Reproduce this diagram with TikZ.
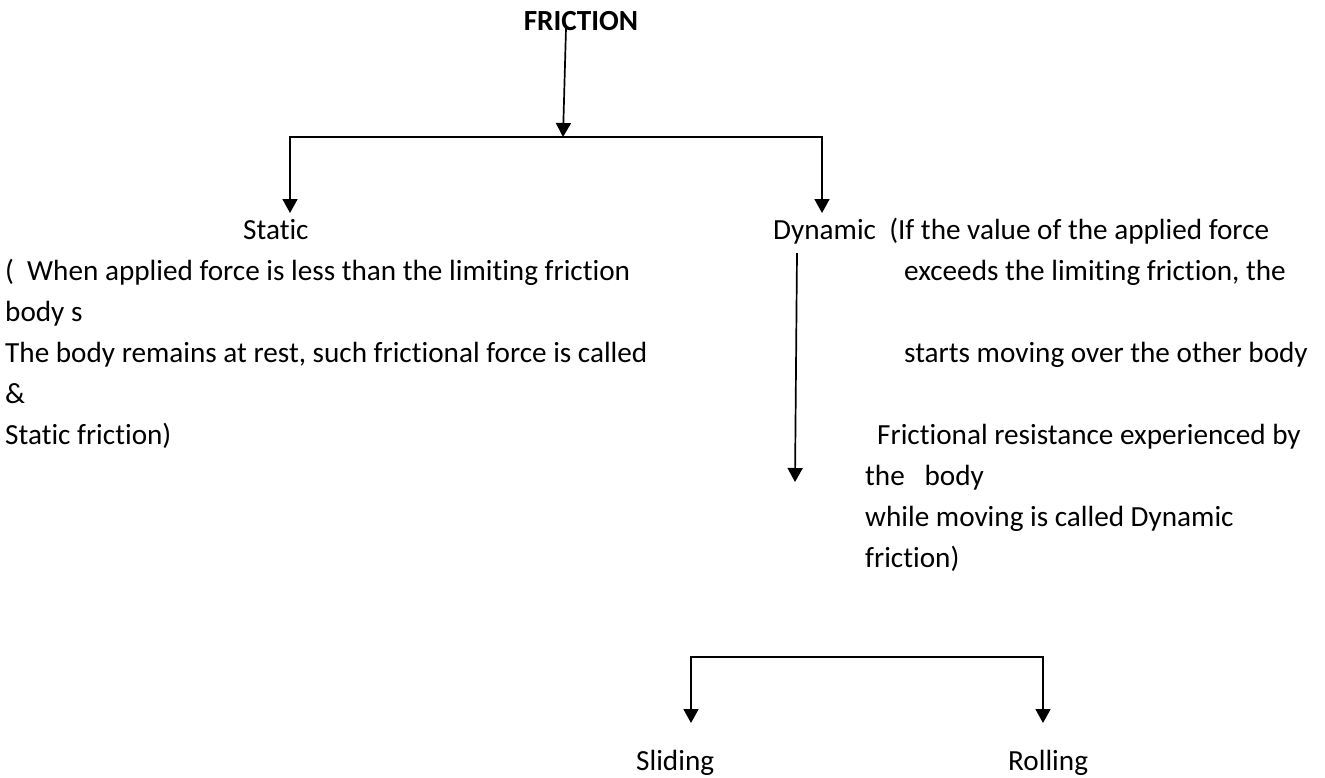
\documentclass[tikz,border=0pt]{standalone}
\usepackage{fontspec}
\setmainfont{Carlito}[Ligatures=NoCommon]
\usetikzlibrary{arrows.meta}
\begin{document}
\begin{tikzpicture}[x=1pt,y=-1pt,
  txt/.style={inner sep=0pt, anchor=base west, font=\fontsize{29.2}{40.8}\selectfont},
  link/.style={line width=1.7pt},
  tip/.tip={Triangle[length=14pt,width=15pt]},
  arr/.style={link, -tip},
  fork/.style={link, tip-tip}]
\useasboundingbox (0,0) rectangle (1325,777);

% title
\node[txt, anchor=base, font=\fontsize{29.2}{40.8}\selectfont\bfseries] (fric) at (581,30) {FRICTION};

% first level
\node[txt] (static) at (243,239) {Static};
\node[txt] (dyn) at (773,239) {Dynamic\ \ (If the value of the applied force};

% static friction explanation
\node[txt] (s1) at (5,280) {(\ \ When applied force is less than the limiting friction};
\node[txt] (s2) at (5,321) {body s};
\node[txt] (s3) at (5,362) {The body remains at rest, such frictional force is called};
\node[txt] (s4) at (5,403) {\&};
\node[txt] (s5) at (5,444) {Static friction)};

% dynamic friction explanation
\node[txt] (d1) at (904,280) {exceeds the limiting friction, the};
\node[txt] (d2) at (904,362) {starts moving over the other body};
\node[txt] (d3) at (877,444) {Frictional resistance experienced by};
\node[txt] (d4) at (865,485) {the\ \ \ body};
\node[txt] (d5) at (865,526) {while moving is called Dynamic};
\node[txt] (d6) at (865,567) {friction)};

% second level
\node[txt] (slide) at (636,770) {Sliding};
\node[txt] (roll) at (1008,770) {Rolling};

% connector points
\coordinate (top) at (566,28);
\coordinate (split) at (563,137);
\coordinate (lc) at (290,137);
\coordinate (rc) at (822,137);
\coordinate (sTip) at (290,213);
\coordinate (dTip) at (822,213);
\coordinate (dTop) at (797,253);
\coordinate (dEnd) at (795,482);
\coordinate (bl) at (691,657);
\coordinate (br) at (1043,657);
\coordinate (slTip) at (691,723);
\coordinate (roTip) at (1043,723);

\draw[arr] (top) -- (split);
\draw[fork] (sTip) -- (lc) -- (rc) -- (dTip);
\draw[arr] (dTop) -- (dEnd);
\draw[fork] (slTip) -- (bl) -- (br) -- (roTip);
\end{tikzpicture}
\end{document}
